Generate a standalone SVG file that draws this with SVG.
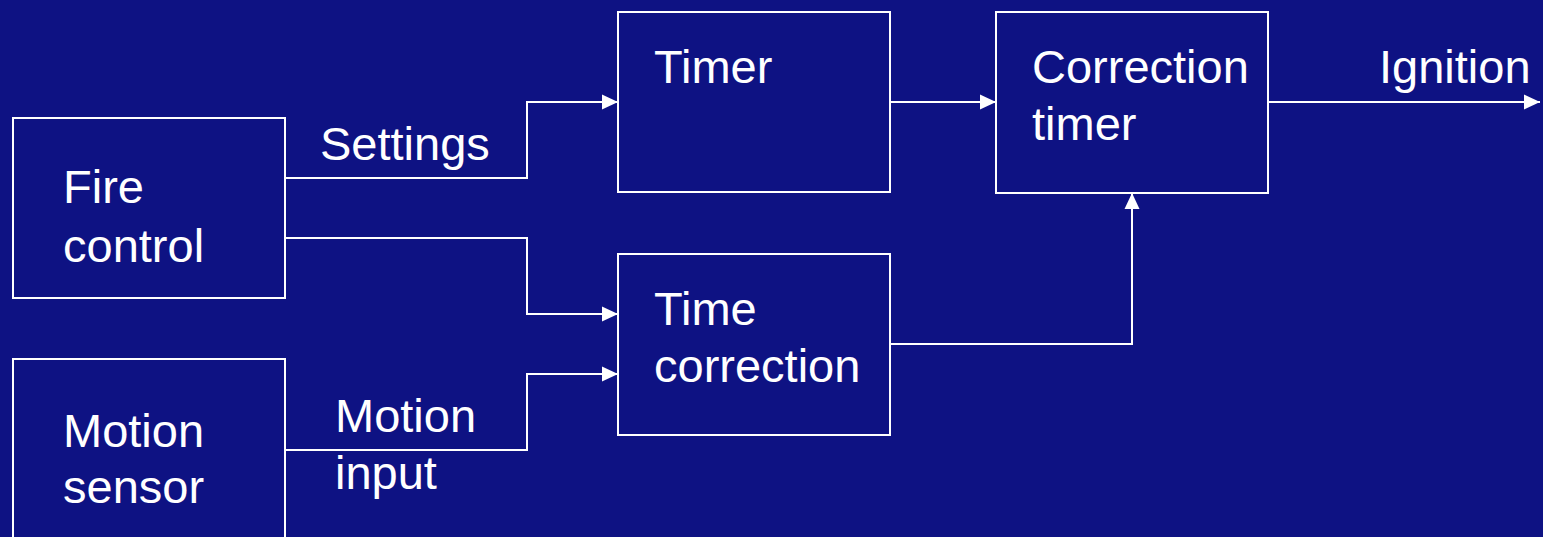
<svg xmlns="http://www.w3.org/2000/svg" width="1543" height="537" viewBox="0 0 1543 537">
<defs>
<style>
.box{fill:none;stroke:#fff;stroke-width:2}
.wire{fill:none;stroke:#fff;stroke-width:2}
text{font-family:"Liberation Sans",Arial,sans-serif;font-size:47px;fill:#fff}
</style>
<marker id="ah" markerWidth="16" markerHeight="16" refX="16" refY="8" orient="auto" markerUnits="userSpaceOnUse">
<path d="M0,0.5 L16,8 L0,15.5 Z" fill="#fff"/>
</marker>
</defs>
<rect width="1543" height="537" fill="#0e1283"/>
<g id="fire-control"><rect class="box" x="13" y="118" width="272" height="180"/><text x="63" y="203">Fire</text><text x="63" y="262">control</text></g>
<g id="motion-sensor"><rect class="box" x="13" y="359" width="272" height="200"/><text x="63" y="447">Motion</text><text x="63" y="503">sensor</text></g>
<g id="timer"><rect class="box" x="618" y="12" width="272" height="180"/><text x="654" y="83">Timer</text></g>
<g id="correction-timer"><rect class="box" x="996" y="12" width="272" height="181"/><text x="1032" y="83">Correction</text><text x="1032" y="140">timer</text></g>
<g id="time-correction"><rect class="box" x="618" y="254" width="272" height="181"/><text x="654" y="325">Time</text><text x="654" y="382">correction</text></g>
<g id="connectors">
<polyline class="wire" points="285,178 527,178 527,102 618,102" marker-end="url(#ah)"/>
<line class="wire" x1="890" y1="102" x2="996" y2="102" marker-end="url(#ah)"/>
<polyline class="wire" points="285,238 527,238 527,314 618,314" marker-end="url(#ah)"/>
<polyline class="wire" points="285,450 527,450 527,374 618,374" marker-end="url(#ah)"/>
<polyline class="wire" points="890,344 1132,344 1132,193" marker-end="url(#ah)"/>
<line class="wire" x1="1268" y1="102" x2="1540" y2="102" marker-end="url(#ah)"/>
<text x="320" y="160">Settings</text>
<text x="335" y="432">Motion</text>
<text x="335" y="489">input</text>
<text x="1379" y="83">Ignition</text>
</g>
</svg>
